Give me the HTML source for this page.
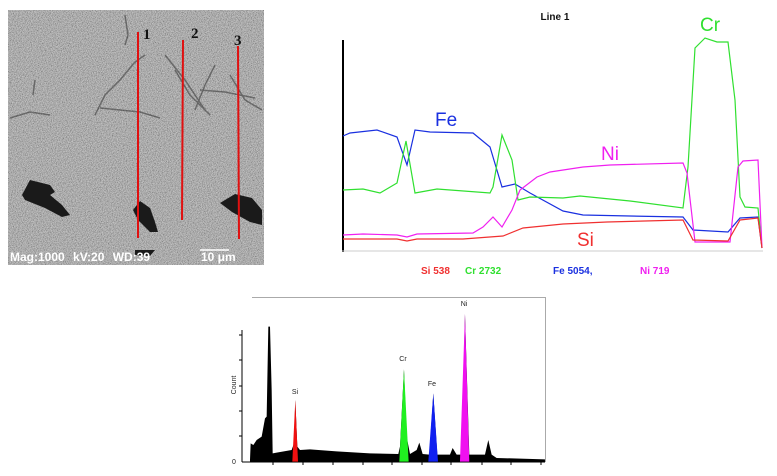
<!DOCTYPE html>
<html><head><meta charset="utf-8"><style>
html,body{margin:0;padding:0;background:#fff;}
svg{display:block;font-family:"Liberation Sans",sans-serif;}
</style></head><body>
<svg width="777" height="476" viewBox="0 0 777 476" xmlns="http://www.w3.org/2000/svg">
<defs>
<filter id="n" x="0" y="0" width="100%" height="100%">
<feTurbulence type="fractalNoise" baseFrequency="1.2" numOctaves="1" seed="3"/>
<feColorMatrix type="matrix" values="1.6 0 0 0 -0.3  1.6 0 0 0 -0.3  1.6 0 0 0 -0.3  0 0 0 0 1"/>
</filter>
<clipPath id="sc"><rect x="8" y="10" width="256" height="255"/></clipPath>
</defs>
<g clip-path="url(#sc)">
<rect x="8" y="10" width="256" height="255" filter="url(#n)"/>
<rect x="8" y="10" width="256" height="255" fill="#9a9a9a" opacity="0.45"/>
<g stroke="#333" stroke-width="1.5" fill="none" opacity="0.55">
<path d="M10 118 L30 112 L50 115"/>
<path d="M95 115 L105 95 L120 80 L135 62 L145 55"/>
<path d="M100 108 L140 112 L160 118"/>
<path d="M165 55 L185 80 L205 110"/>
<path d="M200 90 L225 92 L255 98"/>
<path d="M215 65 L205 85 L195 110"/>
<path d="M175 70 L190 95 L210 115"/>
<path d="M230 75 L245 100 L262 110"/>
<path d="M125 15 L128 35 L125 45"/>
<path d="M35 80 L33 95"/>
</g>
<g fill="#1a1a1a">
<path d="M22 195 L30 180 L50 185 L55 192 L50 195 L62 205 L70 215 L62 217 L45 208 L25 200 Z"/>
<path d="M133 210 L140 201 L150 208 L155 222 L158 232 L150 232 L138 220 Z"/>
<path d="M220 203 L235 194 L252 198 L262 210 L262 225 L250 222 L232 212 Z"/>
<path d="M135 250 L155 250 L150 256 L135 255 Z"/>
</g>
</g>
<g stroke="#e01010" stroke-width="2">
<line x1="138" y1="32" x2="138" y2="238"/>
<line x1="183" y1="40" x2="182" y2="220"/>
<line x1="238" y1="46" x2="239" y2="239"/>
</g>
<g font-family="Liberation Serif,serif" font-weight="bold" font-size="15" fill="#111">
<text x="143" y="39">1</text><text x="191" y="38">2</text><text x="234" y="45">3</text>
</g>
<text x="10" y="261" font-size="12" font-weight="bold" fill="#fff" word-spacing="5">Mag:1000 kV:20 WD:39</text>
<text x="201" y="261" font-size="12" font-weight="bold" fill="#fff">10 μm</text>
<line x1="200" y1="250" x2="229" y2="250" stroke="#fff" stroke-width="1.5"/>

<text x="555" y="20" font-size="10" font-weight="bold" text-anchor="middle" fill="#111">Line 1</text>
<line x1="343" y1="40" x2="343" y2="252" stroke="#000" stroke-width="2"/>
<line x1="342" y1="251" x2="763" y2="251" stroke="#ccc" stroke-width="1"/>
<g fill="none" stroke-width="1.2">
<polyline stroke="#1a30e0" points="343,136 350,133 377,130 397,137 407,165 415,130 430,132 473,133 490,147 502,187 515,184 530,193 563,211 583,215 630,216 683,217 693,230 728,232 740,218 758,217 762,248"/>
<polyline stroke="#30e030" points="343,190 363,189 380,193 397,183 406,141 415,193 437,189 490,193 493,187 502,135 512,160 518,200 530,197 563,198 580,196 630,201 683,208 688,167 695,48 705,38 717,42 728,42 735,100 740,197 745,207 758,208 762,248"/>
<polyline stroke="#f020f0" points="343,235 363,234 397,235 407,237 417,234 473,233 483,227 493,217 502,227 512,210 520,190 537,177 550,172 583,167 610,165 683,163 687,173 695,242 730,242 738,167 743,161 758,160 762,248"/>
<polyline stroke="#f03030" points="343,239 397,239 407,241 417,239 463,239 503,236 523,228 563,224 607,222 683,220 693,240 728,241 740,220 758,218 762,248"/>
</g>
<text x="435" y="126" font-size="19" fill="#1a30e0">Fe</text>
<text x="601" y="160" font-size="19" fill="#f020f0">Ni</text>
<text x="700" y="31" font-size="19" fill="#30e030">Cr</text>
<text x="577" y="246" font-size="19" fill="#f03030">Si</text>
<g font-size="10" font-weight="bold">
<text x="421" y="274" fill="#f03030">Si  538</text>
<text x="465" y="274" fill="#30e030">Cr  2732</text>
<text x="553" y="274" fill="#1a30e0">Fe  5054,</text>
<text x="640" y="274" fill="#f020f0">Ni  719</text>
</g>

<line x1="252" y1="297.5" x2="545" y2="297.5" stroke="#aaa" stroke-width="1"/>
<line x1="545.5" y1="297" x2="545.5" y2="462" stroke="#aaa" stroke-width="1"/>
<line x1="242" y1="330" x2="242" y2="462" stroke="#000" stroke-width="1"/>
<line x1="242" y1="462" x2="545" y2="462" stroke="#000" stroke-width="1"/>
<g stroke="#000" stroke-width="1">
<line x1="239" y1="335" x2="242" y2="335"/><line x1="239" y1="360" x2="242" y2="360"/>
<line x1="239" y1="386" x2="242" y2="386"/><line x1="239" y1="411" x2="242" y2="411"/>
<line x1="239" y1="436" x2="242" y2="436"/>
<line x1="273" y1="462" x2="273" y2="465"/><line x1="303" y1="462" x2="303" y2="465"/>
<line x1="333" y1="462" x2="333" y2="465"/><line x1="363" y1="462" x2="363" y2="465"/>
<line x1="392" y1="462" x2="392" y2="465"/><line x1="422" y1="462" x2="422" y2="465"/>
<line x1="451" y1="462" x2="451" y2="465"/><line x1="482" y1="462" x2="482" y2="465"/>
<line x1="511" y1="462" x2="511" y2="465"/><line x1="541" y1="462" x2="541" y2="465"/>
</g>
<g transform="translate(220,290) scale(0.3333)">
<polygon fill="#000" points="90,515 90,510 92,460 100,465 110,450 125,440 135,385 140,380 145,110 150,110 155,300 158,490 170,488 215,480 222,460 226,330 232,470 240,480 270,478 350,484 450,490 535,492 540,470 552,238 560,440 570,492 590,480 598,458 608,492 628,494 640,310 652,494 690,494 698,474 710,494 725,494 735,72 748,494 795,494 805,450 815,494 830,504 975,508 975,515"/>
<polygon fill="#f01010" points="217,515 226,330 234,515"/>
<polygon fill="#20f020" points="538,515 552,238 566,515"/>
<polygon fill="#1020f0" points="625,515 640,310 654,515"/>
<polygon fill="#f010f0" points="720,515 735,72 748,515"/>
</g>
<g font-size="7" fill="#222" text-anchor="middle">
<text x="295" y="394">Si</text><text x="403" y="361">Cr</text>
<text x="432" y="386">Fe</text><text x="464" y="306">Ni</text>
<text x="234" y="464">0</text>
<text transform="translate(236,385) rotate(-90)">Count</text>
</g>
</svg>
</body></html>
